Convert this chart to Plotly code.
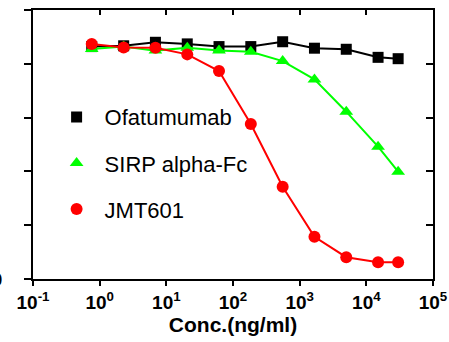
import plotly.graph_objects as go

conc = [0.76, 2.29, 6.86, 20.6, 61.7, 185, 556, 1667, 5000, 15000, 30000]
ofatumumab = [86.4, 86.7, 88.0, 87.4, 86.4, 86.4, 88.2, 85.8, 85.4, 82.4, 81.9]
sirp_alpha_fc = [85.5, 86.4, 84.9, 86.0, 84.9, 84.5, 81.0, 74.2, 62.2, 49.2, 39.9]
jmt601 = [87.4, 86.1, 86.0, 83.5, 77.3, 57.6, 34.3, 15.7, 8.1, 6.2, 6.2]

series = [
    ("Ofatumumab", ofatumumab, "#000000", "square"),
    ("SIRP alpha-Fc", sirp_alpha_fc, "#00ff00", "triangle-up"),
    ("JMT601", jmt601, "#ff0000", "circle"),
]

x_tickvals = [0.1, 1, 10, 100, 1000, 10000, 100000]
x_ticktext = ["<b>10<sup>-1</sup></b>", "<b>10<sup>0</sup></b>", "<b>10<sup>1</sup></b>",
              "<b>10<sup>2</sup></b>", "<b>10<sup>3</sup></b>", "<b>10<sup>4</sup></b>",
              "<b>10<sup>5</sup></b>"]
y_tickvals = [0, 20, 40, 60, 80, 100]
y_ticktext = ["<b>0</b>", "", "", "", "", ""]

fig = go.Figure()
for name, vals, color, sym in series:
    fig.add_trace(go.Scatter(
        x=conc, y=vals, mode="lines+markers", name=name, showlegend=False,
        line=dict(color=color, width=2),
        marker=dict(symbol=sym, size=12 if sym != "square" else 11, color=color),
    ))
for i, (name, vals, color, sym) in enumerate(series):
    fig.add_trace(go.Scatter(
        x=[None], y=[None], mode="markers", name=name, legendgroup=f"g{i}",
        marker=dict(symbol=sym, size=12 if sym != "square" else 11, color=color),
    ))

# mirrored axes with inward ticks
fig.add_trace(go.Scatter(x=[None], y=[None], xaxis="x2", yaxis="y2", showlegend=False))

fig.update_layout(
    width=449, height=342,
    margin=dict(l=32.5, r=16, t=10, b=62.7),
    paper_bgcolor="white", plot_bgcolor="white",
    font=dict(family="Arial, Liberation Sans, sans-serif", color="black"),
    showlegend=True,
    legend=dict(x=0.039, y=0.68, xanchor="left", yanchor="top",
                font=dict(size=22, family="Arial, Liberation Sans, sans-serif"),
                bgcolor="rgba(0,0,0,0)", tracegroupgap=14.5, itemwidth=46),
    xaxis=dict(type="log", range=[-1, 5], tickvals=x_tickvals, ticktext=x_ticktext,
               ticks="outside", ticklen=5, tickwidth=1.5, tickcolor="black",
               showline=True, linecolor="black", linewidth=1.5, showgrid=False,
               zeroline=False, tickfont=dict(size=19), automargin=False,
               title=dict(text="<b>Conc.(ng/ml)</b>", font=dict(size=21), standoff=6)),
    yaxis=dict(range=[0, 100], tickvals=y_tickvals, ticktext=y_ticktext,
               ticks="outside", ticklen=7, tickwidth=1.5, tickcolor="black",
               showline=True, linecolor="black", linewidth=1.5, showgrid=False,
               zeroline=False, tickfont=dict(size=19), ticklabelstandoff=18,
               automargin=False),
    xaxis2=dict(type="log", range=[-1, 5], overlaying="x", side="top",
                tickvals=x_tickvals, showticklabels=False, ticks="inside", ticklen=5,
                tickwidth=1.5, tickcolor="black", showline=True, linecolor="black",
                linewidth=1.5, showgrid=False, zeroline=False, automargin=False),
    yaxis2=dict(range=[0, 100], overlaying="y", side="right", anchor="x2",
                tickvals=y_tickvals, showticklabels=False, ticks="inside", ticklen=7,
                tickwidth=1.5, tickcolor="black", showline=True, linecolor="black",
                linewidth=1.5, showgrid=False, zeroline=False, automargin=False),
)

fig.write_html("out.html", config={"displayModeBar": False},
               post_script="document.body.style.margin='0';")
